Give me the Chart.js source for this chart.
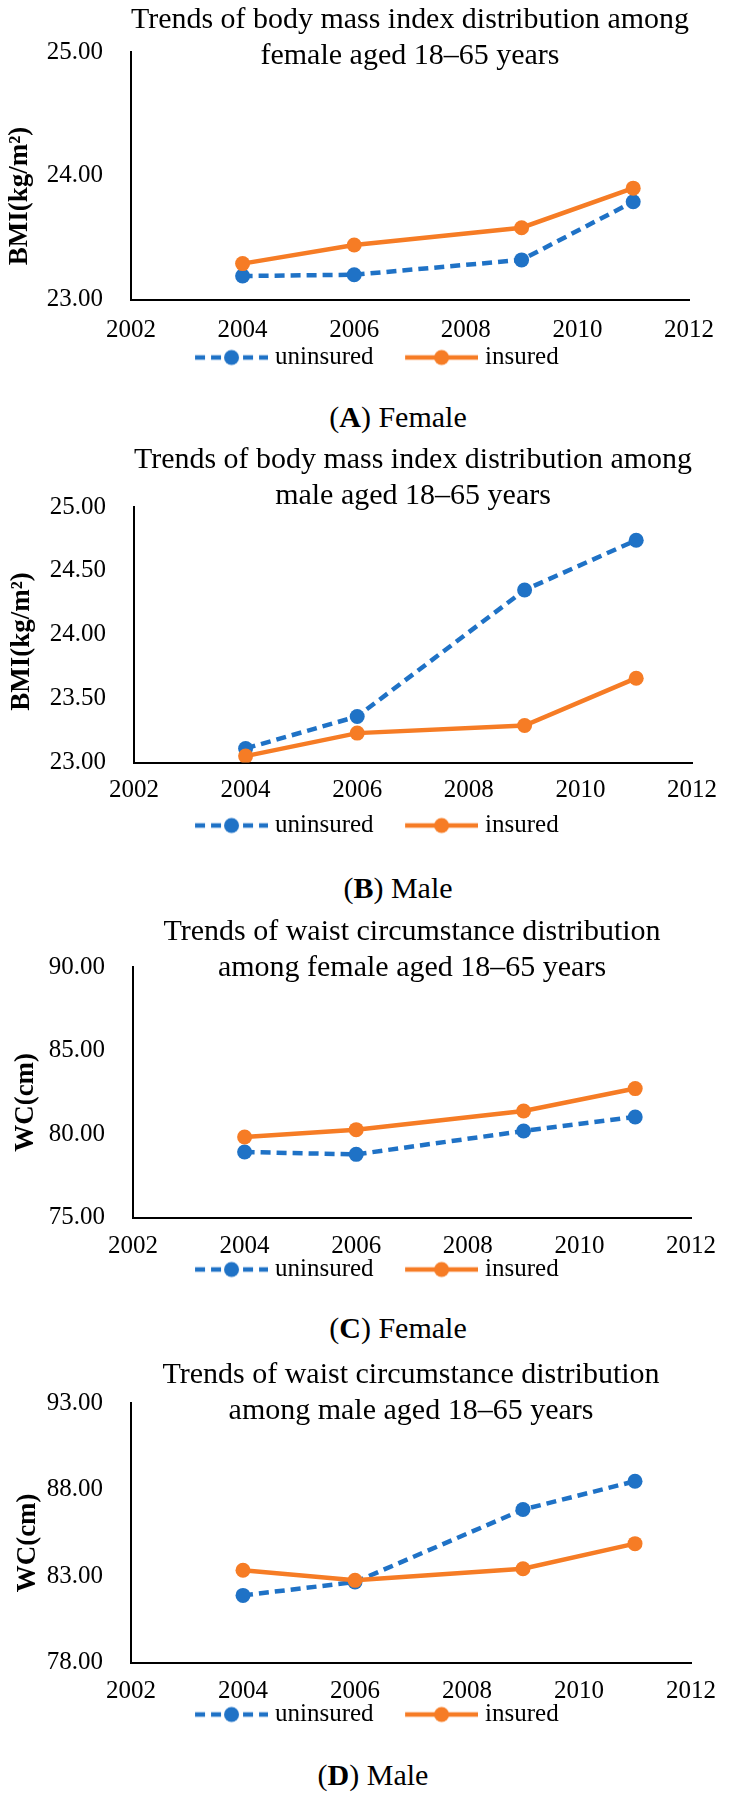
<!DOCTYPE html>
<html>
<head>
<meta charset="utf-8">
<script src="https://cdn.jsdelivr.net/npm/chart.js@4.4.1/dist/chart.umd.min.js"></script>
<style>
  body { margin: 0; background: #fff; width: 730px; height: 1794px; position: relative; overflow: hidden; }
  canvas { position: absolute; left: 0; }
  .cap { position: absolute; font: 30px "Liberation Serif", "Times New Roman", serif; color: #000;
         transform: translate(-50%, -50%); white-space: nowrap; }
</style>
</head>
<body>
<canvas id="chartA" width="730"></canvas>
<canvas id="chartB" width="730"></canvas>
<canvas id="chartC" width="730"></canvas>
<canvas id="chartD" width="730"></canvas>
<div class="cap" id="capA">(<b>A</b>) Female</div>
<div class="cap" id="capB">(<b>B</b>) Male</div>
<div class="cap" id="capC">(<b>C</b>) Female</div>
<div class="cap" id="capD">(<b>D</b>) Male</div>
<script>
// --- data ---
const years = [2004, 2006, 2009, 2011];
const xTickValues = [2002, 2004, 2006, 2008, 2010, 2012];
const seriesNames = ['uninsured', 'insured'];

const bmiFemaleUninsured = [23.19, 23.20, 23.32, 23.79];
const bmiFemaleInsured   = [23.29, 23.44, 23.58, 23.90];
const bmiMaleUninsured   = [23.11, 23.36, 24.35, 24.74];
const bmiMaleInsured     = [23.05, 23.23, 23.29, 23.66];
const wcFemaleUninsured  = [78.92, 78.78, 80.18, 81.02];
const wcFemaleInsured    = [79.82, 80.26, 81.38, 82.72];
const wcMaleUninsured    = [81.88, 82.65, 86.84, 88.48];
const wcMaleInsured      = [83.33, 82.75, 83.42, 84.87];

const yTicksA = [23, 24, 25];
const yTicksB = [23, 23.5, 24, 24.5, 25];
const yTicksC = [75, 80, 85, 90];
const yTicksD = [78, 83, 88, 93];

const BLUE = '#1f72c6';
const ORANGE = '#f67c25';
const FONT = '"Liberation Serif", "Times New Roman", serif';

Chart.defaults.font.family = FONT;
Chart.defaults.color = '#000';

// legend symbol: short line with the marker in the middle (Excel style).
// left part of the image is left empty, it makes the gap between the two items
function legendIcon(color, dashed) {
    const c = document.createElement('canvas');
    c.width = 110; c.height = 18;
    const ctx = c.getContext('2d');
    ctx.strokeStyle = color;
    ctx.lineWidth = 4.5;
    if (dashed) ctx.setLineDash([10, 6]);
    ctx.beginPath(); ctx.moveTo(37, 9); ctx.lineTo(110, 9); ctx.stroke();
    ctx.fillStyle = color;
    ctx.beginPath(); ctx.arc(73.5, 9, 7.5, 0, 2 * Math.PI); ctx.fill();
    return c;
}
const icons = [legendIcon(BLUE, true), legendIcon(ORANGE, false)];

function pts(values) {
    return years.map((x, i) => ({ x: x, y: values[i] }));
}

// p = page geometry (px)
function makeChart(id, p, title, yTitle, yTicks, uninsured, insured) {
    const canvas = document.getElementById(id);
    canvas.height = Math.round(p.legend + 22.5 - p.top);
    canvas.style.top = p.top + 'px';
    const padLeft = 722.2 - p.right;       // keeps the legend where the reference has it
    const legendTop = p.legend - 12.5;

    return new Chart(canvas.getContext('2d'), {
        type: 'line',
        data: {
            datasets: [
                { label: seriesNames[0], data: pts(uninsured), borderColor: BLUE, backgroundColor: BLUE,
                  borderWidth: 4.5, borderDash: [10, 6], pointRadius: 7.5, pointBorderWidth: 0,
                  pointBackgroundColor: BLUE, order: 2 },
                { label: seriesNames[1], data: pts(insured), borderColor: ORANGE, backgroundColor: ORANGE,
                  borderWidth: 4.5, pointRadius: 7.5, pointBorderWidth: 0,
                  pointBackgroundColor: ORANGE, order: 1 }
            ]
        },
        options: {
            responsive: false,
            animation: false,
            events: [],
            layout: { padding: { left: padLeft, right: 730 - p.right, top: 0, bottom: 0 } },
            plugins: {
                tooltip: { enabled: false },
                title: {
                    display: true, text: title, fullSize: false, color: '#000',
                    font: { size: 30, weight: 'normal', lineHeight: 1.2 },
                    padding: { top: 2, bottom: (p.areaTop - p.top) - 74 }
                },
                legend: {
                    position: 'bottom',
                    labels: {
                        usePointStyle: true, pointStyleWidth: 99, padding: 0, color: '#000',
                        font: { size: 25 },
                        sort: (a, b) => a.datasetIndex - b.datasetIndex,
                        generateLabels: chart => Chart.defaults.plugins.legend.labels.generateLabels(chart)
                            .map(l => ({ ...l, pointStyle: icons[l.datasetIndex] }))
                    }
                }
            },
            scales: {
                x: {
                    type: 'linear', min: xTickValues[0], max: xTickValues[xTickValues.length - 1],
                    afterBuildTicks: s => { s.ticks = xTickValues.map(v => ({ value: v })); },
                    afterFit: s => { s.height = legendTop - p.areaBottom; },
                    grid: { display: false, drawTicks: false },
                    border: { display: true, color: '#000', width: 2 },
                    ticks: { padding: p.xLabel - p.areaBottom - 15, font: { size: 25 }, color: '#000',
                             maxRotation: 0, autoSkip: false, callback: v => String(v) }
                },
                y: {
                    min: yTicks[0], max: yTicks[yTicks.length - 1],
                    afterBuildTicks: s => { s.ticks = yTicks.map(v => ({ value: v })); },
                    afterFit: s => { s.width = p.left - padLeft; },
                    grid: { display: false, drawTicks: false },
                    border: { display: true, color: '#000', width: 2 },
                    ticks: { padding: 28, font: { size: 25 }, color: '#000', callback: v => v.toFixed(2) },
                    title: { display: true, text: yTitle + ' '.repeat(p.yTitleShift), color: '#000',
                             font: { size: 27, weight: 'bold' },
                             padding: { top: p.yTitleX - padLeft - 16.2, bottom: 0 } }
                }
            }
        }
    });
}

function placeCaption(id, x, y) {
    const el = document.getElementById(id);
    el.style.left = x + 'px';
    el.style.top = y + 'px';
}

const panelA = { top: 0,    areaTop: 52,   areaBottom: 299,  left: 131, right: 697, xLabel: 330,  legend: 357,  yTitleX: 20, yTitleShift: 6 };
const panelB = { top: 440,  areaTop: 507,  areaBottom: 762,  left: 134, right: 702, xLabel: 790,  legend: 825,  yTitleX: 22, yTitleShift: 2 };
const panelC = { top: 912,  areaTop: 967,  areaBottom: 1217, left: 133, right: 697, xLabel: 1246, legend: 1269, yTitleX: 26, yTitleShift: 3 };
const panelD = { top: 1355, areaTop: 1403, areaBottom: 1662, left: 131, right: 693, xLabel: 1691, legend: 1714, yTitleX: 28, yTitleShift: 3 };

makeChart('chartA', panelA, ['Trends of body mass index distribution among', 'female aged 18\u201365 years'],
    'BMI(kg/m\u00b2)', yTicksA, bmiFemaleUninsured, bmiFemaleInsured);
makeChart('chartB', panelB, ['Trends of body mass index distribution among', 'male aged 18\u201365 years'],
    'BMI(kg/m\u00b2)', yTicksB, bmiMaleUninsured, bmiMaleInsured);
makeChart('chartC', panelC, ['Trends of waist circumstance distribution', 'among female aged 18\u201365 years'],
    'WC(cm)', yTicksC, wcFemaleUninsured, wcFemaleInsured);
makeChart('chartD', panelD, ['Trends of waist circumstance distribution', 'among male aged 18\u201365 years'],
    'WC(cm)', yTicksD, wcMaleUninsured, wcMaleInsured);

placeCaption('capA', 398, 417);
placeCaption('capB', 398, 888);
placeCaption('capC', 398, 1328);
placeCaption('capD', 373, 1775);
</script>
</body>
</html>
